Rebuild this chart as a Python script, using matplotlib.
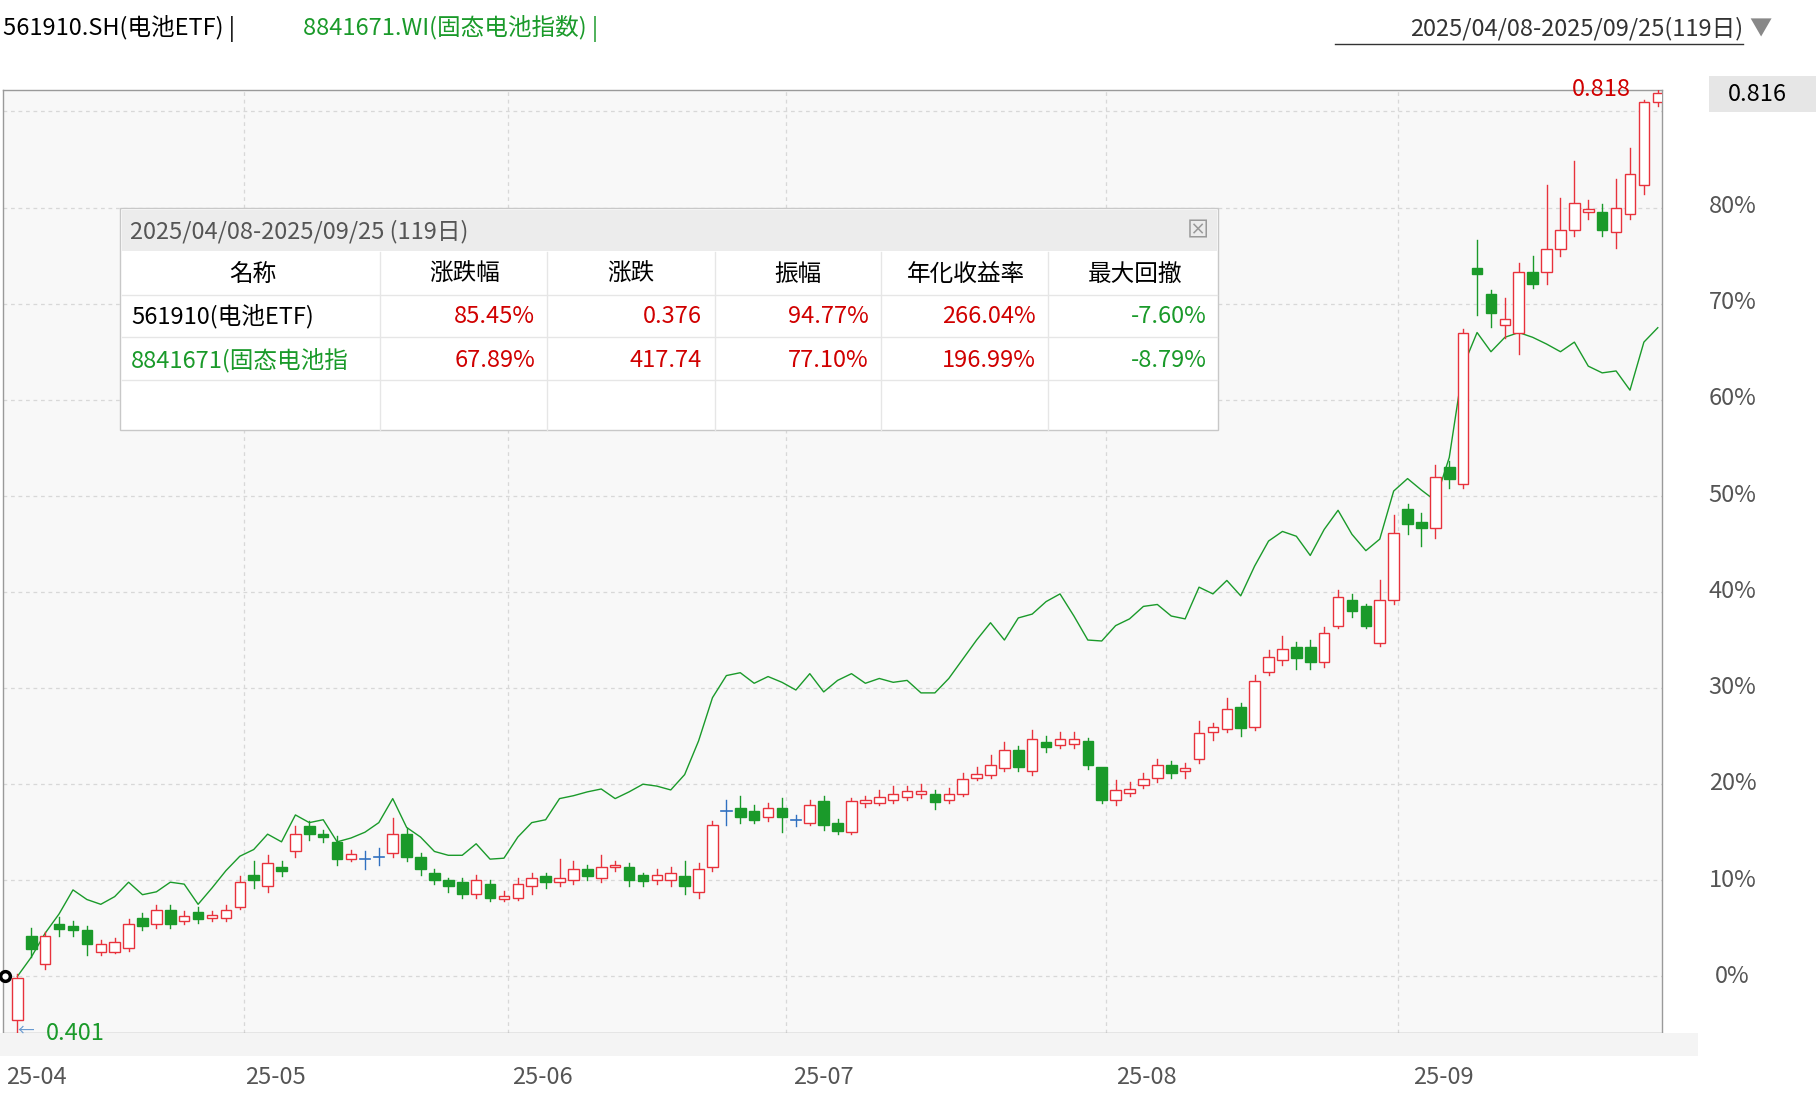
import matplotlib
matplotlib.use("Agg")
import matplotlib.pyplot as plt
from matplotlib import font_manager
from matplotlib.patches import Rectangle

# find an installed sans CJK family
cjk = sorted({f.name for f in font_manager.fontManager.ttflist if "CJK" in f.name and "Sans" in f.name})
if not cjk:
    cjk = sorted({f.name for f in font_manager.fontManager.ttflist if "CJK" in f.name})
fam = "Noto Sans CJK SC" if "Noto Sans CJK SC" in cjk else (cjk[0] if cjk else "DejaVu Sans")
plt.rcParams["font.family"] = [fam, "DejaVu Sans"]

# daily candles in % vs base (561910 ETF)
opens = [-4.5, 4.2, 1.3, 5.4, 5.2, 4.8, 2.5, 2.5, 3.0, 6.1, 5.5, 6.9, 5.8, 6.7, 6.1, 6.1, 7.2,
         10.6, 9.4, 11.4, 13.0, 15.7, 14.8, 14.0, 12.2, 12.1, 12.3, 12.8, 14.8, 12.4, 10.8, 10.0, 9.8,
         8.6, 9.6, 8.1, 8.2,
         9.4, 10.4, 9.8, 10.0, 11.2, 10.2, 11.4, 11.4, 10.5, 10.0, 10.0, 10.4, 8.8, 11.4, 17.1, 17.5,
         17.2, 16.6, 17.5, 16.2, 16.0, 18.2,
         16.0, 15.0, 18.0, 18.0, 18.4, 18.7, 19.0, 19.0, 18.4, 19.0, 20.6, 21.0, 21.7, 23.6, 21.4, 24.4,
         24.1, 24.2, 24.5, 21.8, 18.4, 19.1, 19.9,
         20.6, 22.0, 21.4, 22.6, 25.4, 25.7, 28.0, 25.9, 31.7, 32.9, 34.3, 34.3, 32.7, 36.5, 39.2, 38.5,
         34.7, 39.2,
         48.6, 47.3, 46.7, 53.0, 51.2, 73.7, 71.0, 67.8, 66.9, 73.3, 73.3, 75.7, 77.7, 79.5, 79.5, 77.5,
         79.3, 82.3, 91.0]
closes = [-0.2, 2.8, 4.2, 4.9, 4.8, 3.4, 3.4, 3.6, 5.4, 5.2, 6.9, 5.5, 6.3, 6.0, 6.4, 6.9, 9.8,
          10.0, 11.8, 11.0, 14.8, 14.8, 14.5, 12.2, 12.7, 12.2, 12.4, 14.8, 12.4, 11.2, 10.0, 9.4, 8.6,
          10.0, 8.2, 8.4, 9.6,
          10.2, 9.8, 10.2, 11.2, 10.4, 11.4, 11.6, 10.0, 9.9, 10.6, 10.8, 9.4, 11.2, 15.8, 17.2, 16.6,
          16.3, 17.5, 16.6, 16.3, 17.8, 15.8,
          15.1, 18.2, 18.4, 18.7, 19.0, 19.3, 19.3, 18.1, 19.0, 20.5, 21.1, 22.0, 23.6, 21.8, 24.7, 23.9,
          24.7, 24.7, 22.0, 18.4, 19.4, 19.5, 20.5,
          22.0, 21.2, 21.7, 25.3, 25.9, 27.8, 25.8, 30.7, 33.2, 34.1, 33.1, 32.7, 35.7, 39.5, 38.0, 36.5,
          39.2, 46.1,
          47.1, 46.7, 52.0, 51.8, 66.9, 73.1, 69.0, 68.4, 73.3, 72.0, 75.7, 77.7, 80.5, 79.9, 77.7, 80.0,
          83.5, 91.0, 91.9]
highs = [0.2, 5.0, 4.6, 6.2, 5.8, 5.2, 3.8, 4.0, 6.0, 6.6, 7.4, 7.4, 6.8, 7.2, 6.8, 7.4, 10.4,
         12.0, 12.6, 12.0, 15.6, 16.2, 15.2, 14.6, 13.2, 13.0, 13.4, 16.5, 15.4, 12.8, 11.2, 10.2, 10.2,
         10.6, 10.0, 8.9, 10.2,
         10.8, 10.8, 12.2, 12.0, 11.6, 12.6, 12.0, 11.8, 10.8, 11.2, 11.4, 12.0, 11.8, 16.2, 18.4, 18.8,
         17.8, 18.0, 18.6, 16.8, 18.4, 18.8,
         16.4, 18.6, 18.8, 19.4, 19.8, 19.8, 20.0, 19.4, 19.6, 21.2, 21.8, 23.0, 24.4, 24.0, 25.6, 25.0,
         25.4, 25.4, 24.8, 21.8, 20.4, 20.2, 21.2,
         22.6, 22.4, 22.2, 26.6, 26.4, 29.0, 28.4, 31.4, 34.0, 35.4, 34.8, 35.0, 36.4, 40.2, 39.8, 38.8,
         41.2, 48.0,
         49.2, 48.2, 53.2, 53.6, 67.4, 76.6, 71.4, 70.6, 74.2, 75.0, 82.4, 81.0, 84.8, 80.8, 80.4, 83.0,
         86.2, 91.2, 92.2]
lows = [-8.9, 2.0, 0.8, 4.2, 4.2, 2.2, 2.2, 2.4, 2.6, 4.8, 5.0, 5.0, 5.4, 5.6, 5.8, 5.8, 7.0,
        9.2, 8.8, 10.4, 12.4, 14.2, 14.0, 11.6, 12.0, 11.2, 11.6, 12.4, 12.0, 10.6, 9.6, 8.8, 8.2,
        8.2, 7.8, 7.8, 8.0,
        8.6, 9.2, 9.4, 9.6, 10.0, 9.8, 11.0, 9.4, 9.4, 9.6, 9.4, 8.6, 8.2, 11.0, 15.8, 16.0,
        16.0, 16.2, 15.0, 15.6, 15.8, 15.2,
        14.8, 14.8, 17.6, 17.8, 18.0, 18.4, 18.6, 17.4, 18.0, 18.8, 20.4, 20.6, 21.4, 21.4, 21.0, 23.4,
        23.8, 23.8, 21.6, 18.0, 17.8, 18.8, 19.6,
        20.2, 20.6, 20.6, 22.2, 24.6, 25.4, 25.0, 25.6, 31.4, 32.4, 32.0, 32.0, 32.2, 36.2, 37.4, 36.2,
        34.4, 38.8,
        46.0, 44.8, 45.6, 50.8, 50.8, 68.8, 67.6, 66.4, 64.8, 71.6, 72.0, 75.0, 77.0, 78.8, 77.0, 75.8,
        78.8, 81.4, 90.6]

# 8841671.WI index in %
index_line = [0, 2, 4.5, 6.5, 9, 8, 7.5, 8.3, 9.8, 8.5, 8.8, 9.8, 9.6, 7.5, 9.2, 11, 12.5,
              13.2, 14.8, 14, 16.8, 16, 16.3, 14, 14.4, 15, 16, 18.5, 15.5, 14.5, 13, 12.6, 12.6,
              13.8, 12.2, 12.3, 14.5,
              16, 16.3, 18.5, 18.8, 19.2, 19.5, 18.5, 19.2, 20, 19.8, 19.4, 21, 24.5, 29, 31.3, 31.6,
              30.5, 31.2, 30.6, 29.8, 31.5, 29.6,
              30.8, 31.5, 30.5, 31, 30.6, 30.8, 29.5, 29.5, 31, 33, 35, 36.8, 35, 37.3, 37.7, 39,
              39.8, 37.5, 35, 34.9, 36.5, 37.2, 38.5,
              38.7, 37.5, 37.2, 40.5, 39.8, 41.2, 39.6, 42.7, 45.3, 46.3, 45.8, 43.8, 46.5, 48.5, 46, 44.3,
              45.5, 50.5,
              51.8, 50.6, 49.5, 54, 63.5, 67, 65, 66.5, 67, 66.5, 65.8, 65, 66, 63.5, 62.8, 63,
              61, 66, 67.5]

month_labels = ["25-04", "25-05", "25-06", "25-07", "25-08", "25-09"]
month_start = [0, 17, 36, 56, 79, 100]
yticks = [0, 10, 20, 30, 40, 50, 60, 70, 80, 90]

# table
headers = ["名称", "涨跌幅", "涨跌", "振幅", "年化收益率", "最大回撤"]
row1 = ["561910(电池ETF)", "85.45%", "0.376", "94.77%", "266.04%", "-7.60%"]
row2 = ["8841671(固态电池指", "67.89%", "417.74", "77.10%", "196.99%", "-8.79%"]

RED = "#e8323c"
GREEN = "#1a9a2a"
W, H = 1816, 1094
S = W / 1568.0


def fx(x):
    return x * S / W


def fy(y):
    return 1 - y * S / H


fig = plt.figure(figsize=(W / 100, H / 100), dpi=100)
ax = fig.add_axes([fx(3), fy(892), fx(1435) - fx(3), fy(78) - fy(892)])
ax.set_facecolor("#f8f8f8")
ax.set_xlim(-1.0, 118.3)
ax.set_ylim(-5.9, 92.2)

for y in yticks:
    ax.axhline(y, color="#d8d8d8", lw=0.9, ls=(0, (3, 3)), zorder=0)
for m in month_start[1:]:
    ax.axvline(m - 0.7, color="#d8d8d8", lw=0.9, ls=(0, (3, 3)), zorder=0)

for i, (o, c, h, l) in enumerate(zip(opens, closes, highs, lows)):
    if abs(c - o) < 0.15:
        col = "#3070c0"
        ax.plot([i, i], [l, h], color=col, lw=1, zorder=3)
        ax.plot([i - 0.38, i + 0.38], [c, c], color=col, lw=1.2, zorder=3)
        continue
    up = c > o
    col = RED if up else GREEN
    ax.plot([i, i], [l, min(o, c)], color=col, lw=1, zorder=3)
    ax.plot([i, i], [max(o, c), h], color=col, lw=1, zorder=3)
    ax.add_patch(Rectangle((i - 0.38, min(o, c)), 0.76, abs(c - o),
                           facecolor="white" if up else col, edgecolor=col, lw=1, zorder=4))

ax.plot(range(len(index_line)), index_line, color=GREEN, lw=1, zorder=2)
ax.plot([-0.9], [0], marker="o", ms=7, mfc="white", mec="black", mew=2.5, zorder=6, clip_on=False)

ax.set_xticks([])
ax.set_yticks([])
for s in ax.spines.values():
    s.set_color("#9a9a9a")
    s.set_linewidth(1)

# right axis labels (90% is hidden behind the price box)
for y in yticks[:-1]:
    yp = 843 - y * 8.31
    fig.text(fx(1496), fy(yp), f"{y}%", fontsize=17, color="#555555", ha="center", va="center")
# bottom band + month labels
fig.patches.append(Rectangle((fx(0), fy(912)), fx(1466), fy(892) - fy(912),
                             transform=fig.transFigure, facecolor="#f4f4f4", edgecolor="none"))
month_x = [5, 212, 442, 685, 964, 1220]
for lab, xm in zip(month_labels, month_x):
    fig.text(fx(xm), fy(930), lab, fontsize=17, color="#555555", ha="left", va="center")

# header
fig.text(fx(3), fy(25), "561910.SH(电池ETF) |", fontsize=17, color="black", va="center")
fig.text(fx(262), fy(25), "8841671.WI(固态电池指数) |", fontsize=17, color=GREEN, va="center")
fig.text(fx(1505), fy(25), "2025/04/08-2025/09/25(119日)", fontsize=17, color="#333333",
         ha="right", va="center")
fig.lines.append(plt.Line2D([fx(1153), fx(1505)], [fy(38), fy(38)], transform=fig.transFigure,
                            color="#333333", lw=1))
fig.text(fx(1520), fy(25), "▼", fontsize=16, color="#888888", ha="center", va="center")

# value labels
fig.text(fx(1408), fy(77), "0.818", fontsize=17, color="#d00000", ha="right", va="center")
fig.patches.append(Rectangle((fx(1476), fy(97)), fx(92), fy(66) - fy(97), transform=fig.transFigure,
                             facecolor="#e6e6e6", edgecolor="none"))
fig.text(fx(1517), fy(82), "0.816", fontsize=17, color="black", ha="center", va="center")
fig.text(fx(40), fy(892), "0.401", fontsize=17, color=GREEN, ha="left", va="center")
fig.text(fx(22), fy(890), "←", fontsize=12, color="#6a9ad0", ha="center", va="center")

# statistics table
fig.patches.append(Rectangle((fx(104), fy(371)), fx(948), fy(180) - fy(371), transform=fig.transFigure,
                             facecolor="white", edgecolor="#c8c8c8", lw=1, zorder=5))
fig.patches.append(Rectangle((fx(105), fy(217)), fx(946), fy(181) - fy(217), transform=fig.transFigure,
                             facecolor="#ececec", edgecolor="none", zorder=5))
fig.text(fx(112), fy(200), "2025/04/08-2025/09/25 (119日)", fontsize=17, color="#555555",
         va="center", zorder=6)
fig.text(fx(1034), fy(199), "⊠", fontsize=16, color="#999999", ha="center", va="center", zorder=6)
col_div = [328, 472, 617, 761, 905]
for xd in col_div:
    fig.lines.append(plt.Line2D([fx(xd), fx(xd)], [fy(218), fy(371)], transform=fig.transFigure,
                                color="#e6e6e6", lw=1, zorder=6))
for yd in [255, 291, 328]:
    fig.lines.append(plt.Line2D([fx(105), fx(1051)], [fy(yd), fy(yd)], transform=fig.transFigure,
                                color="#e6e6e6", lw=1, zorder=6))
col_right = [None, 462, 606, 750, 894, 1042]
head_x = [218, 401, 545, 689, 834, 980]
for j, hname in enumerate(headers):
    fig.text(fx(head_x[j]), fy(237), hname, fontsize=17, color="black", ha="center", va="center", zorder=7)
for row, yr, namecol in [(row1, 273, "black"), (row2, 311, GREEN)]:
    t = fig.text(fx(113), fy(yr), row[0], fontsize=17, color=namecol, va="center", zorder=7)
    t.set_clip_path(Rectangle((fx(105), 0), fx(223), 1, transform=fig.transFigure))
    for j in range(1, 6):
        c = GREEN if row[j].startswith("-") else "#d00000"
        fig.text(fx(col_right[j]), fy(yr), row[j], fontsize=17, color=c, ha="right", va="center", zorder=7)

fig.savefig("out.png", dpi=100)
